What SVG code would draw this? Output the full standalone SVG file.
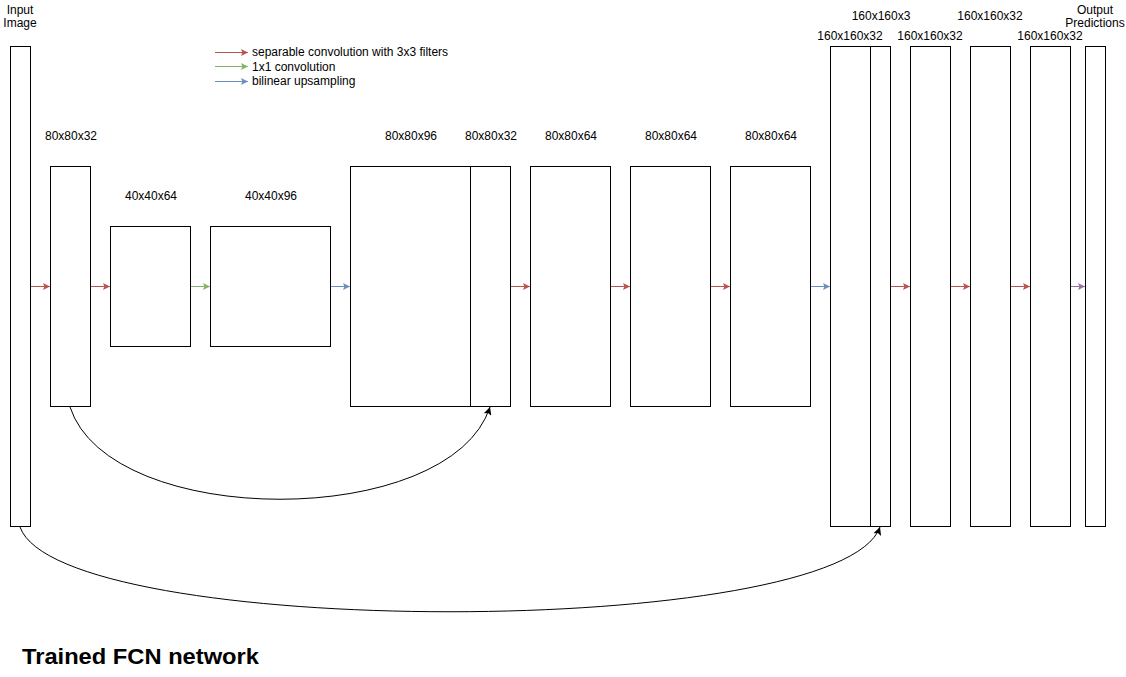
<svg xmlns="http://www.w3.org/2000/svg" width="1126" height="677" viewBox="0 0 1126 677">
<defs>
<style>
.b{fill:#fff;stroke:#000;stroke-width:1}
.t{font-family:"Liberation Sans",Arial,sans-serif;font-size:12px;fill:#000;text-anchor:middle}
.l{font-family:"Liberation Sans",Arial,sans-serif;font-size:12px;fill:#000}
.r{stroke:#b85450;fill:none;stroke-width:1}
.g{stroke:#82b366;fill:none;stroke-width:1}
.u{stroke:#6c8ebf;fill:none;stroke-width:1}
.p{stroke:#9673a6;fill:none;stroke-width:1}
.k{stroke:#000;fill:none;stroke-width:1}
</style>
<marker id="mr" viewBox="0 0 10 10" refX="10" refY="5" markerWidth="7" markerHeight="7" markerUnits="userSpaceOnUse" orient="auto"><path d="M0,0 L10,5 L0,10 L2,5 Z" fill="#b85450"/></marker>
<marker id="mg" viewBox="0 0 10 10" refX="10" refY="5" markerWidth="7" markerHeight="7" markerUnits="userSpaceOnUse" orient="auto"><path d="M0,0 L10,5 L0,10 L2,5 Z" fill="#82b366"/></marker>
<marker id="mu" viewBox="0 0 10 10" refX="10" refY="5" markerWidth="7" markerHeight="7" markerUnits="userSpaceOnUse" orient="auto"><path d="M0,0 L10,5 L0,10 L2,5 Z" fill="#6c8ebf"/></marker>
<marker id="mp" viewBox="0 0 10 10" refX="10" refY="5" markerWidth="7" markerHeight="7" markerUnits="userSpaceOnUse" orient="auto"><path d="M0,0 L10,5 L0,10 L2,5 Z" fill="#9673a6"/></marker>
<marker id="mk" viewBox="0 0 10 10" refX="10" refY="5" markerWidth="8" markerHeight="8" markerUnits="userSpaceOnUse" orient="auto"><path d="M0,0 L10,5 L0,10 L2,5 Z" fill="#000"/></marker>
</defs>
<rect width="1126" height="677" fill="#fff"/>
<g id="input"><rect class="b" x="10.5" y="46.5" width="20" height="480"/><text class="t" x="20" y="14">Input</text><text class="t" x="20" y="27">Image</text></g>
<g id="n1"><rect class="b" x="50.5" y="166.5" width="40" height="240"/><text class="t" x="71" y="140">80x80x32</text></g>
<g id="n2"><rect class="b" x="110.5" y="226.5" width="80" height="120"/><text class="t" x="151" y="200">40x40x64</text></g>
<g id="n3"><rect class="b" x="210.5" y="226.5" width="120" height="120"/><text class="t" x="271" y="200">40x40x96</text></g>
<g id="n4"><rect class="b" x="350.5" y="166.5" width="120" height="240"/><text class="t" x="411" y="140">80x80x96</text></g>
<g id="n4b"><rect class="b" x="470.5" y="166.5" width="40" height="240"/><text class="t" x="491" y="140">80x80x32</text></g>
<g id="n5"><rect class="b" x="530.5" y="166.5" width="80" height="240"/><text class="t" x="571" y="140">80x80x64</text></g>
<g id="n6"><rect class="b" x="630.5" y="166.5" width="80" height="240"/><text class="t" x="671" y="140">80x80x64</text></g>
<g id="n7"><rect class="b" x="730.5" y="166.5" width="80" height="240"/><text class="t" x="771" y="140">80x80x64</text></g>
<g id="n8"><rect class="b" x="830.5" y="46.5" width="40" height="480"/><text class="t" x="850" y="40">160x160x32</text></g>
<g id="n8b"><rect class="b" x="870.5" y="46.5" width="20" height="480"/><text class="t" x="881" y="20">160x160x3</text></g>
<g id="n9"><rect class="b" x="910.5" y="46.5" width="40" height="480"/><text class="t" x="930" y="40">160x160x32</text></g>
<g id="n10"><rect class="b" x="970.5" y="46.5" width="40" height="480"/><text class="t" x="990" y="20">160x160x32</text></g>
<g id="n11"><rect class="b" x="1030.5" y="46.5" width="40" height="480"/><text class="t" x="1050" y="40">160x160x32</text></g>
<g id="out"><rect class="b" x="1085.5" y="46.5" width="20" height="480"/><text class="t" x="1095" y="14">Output</text><text class="t" x="1095" y="27">Predictions</text></g>
<g id="legend">
<line class="r" x1="215" y1="52.5" x2="248" y2="52.5" marker-end="url(#mr)"/><text class="l" x="252" y="56">separable convolution with 3x3 filters</text>
<line class="g" x1="215" y1="66.5" x2="248" y2="66.5" marker-end="url(#mg)"/><text class="l" x="252" y="71">1x1 convolution</text>
<line class="u" x1="215" y1="81.5" x2="248" y2="81.5" marker-end="url(#mu)"/><text class="l" x="252" y="85">bilinear upsampling</text>
</g>
<g id="connectors">
<line class="r" x1="31" y1="286.5" x2="50" y2="286.5" marker-end="url(#mr)"/>
<line class="r" x1="91" y1="286.5" x2="110" y2="286.5" marker-end="url(#mr)"/>
<line class="g" x1="191" y1="286.5" x2="210" y2="286.5" marker-end="url(#mg)"/>
<line class="u" x1="331" y1="286.5" x2="350" y2="286.5" marker-end="url(#mu)"/>
<line class="r" x1="511" y1="286.5" x2="530" y2="286.5" marker-end="url(#mr)"/>
<line class="r" x1="611" y1="286.5" x2="630" y2="286.5" marker-end="url(#mr)"/>
<line class="r" x1="711" y1="286.5" x2="730" y2="286.5" marker-end="url(#mr)"/>
<line class="u" x1="811" y1="286.5" x2="830" y2="286.5" marker-end="url(#mu)"/>
<line class="r" x1="891" y1="286.5" x2="910" y2="286.5" marker-end="url(#mr)"/>
<line class="r" x1="951" y1="286.5" x2="970" y2="286.5" marker-end="url(#mr)"/>
<line class="r" x1="1011" y1="286.5" x2="1030" y2="286.5" marker-end="url(#mr)"/>
<line class="p" x1="1071" y1="286.5" x2="1085" y2="286.5" marker-end="url(#mp)"/>
<path class="k" d="M70,407 C110,530 450,530 490,407" marker-end="url(#mk)"/>
<path class="k" d="M20,527 C60,640 840,640 880,527" marker-end="url(#mk)"/>
</g>
<text x="22" y="664" font-family="Liberation Sans,Arial,sans-serif" font-size="22" font-weight="bold" fill="#000" textLength="237" lengthAdjust="spacingAndGlyphs">Trained FCN network</text>
</svg>
